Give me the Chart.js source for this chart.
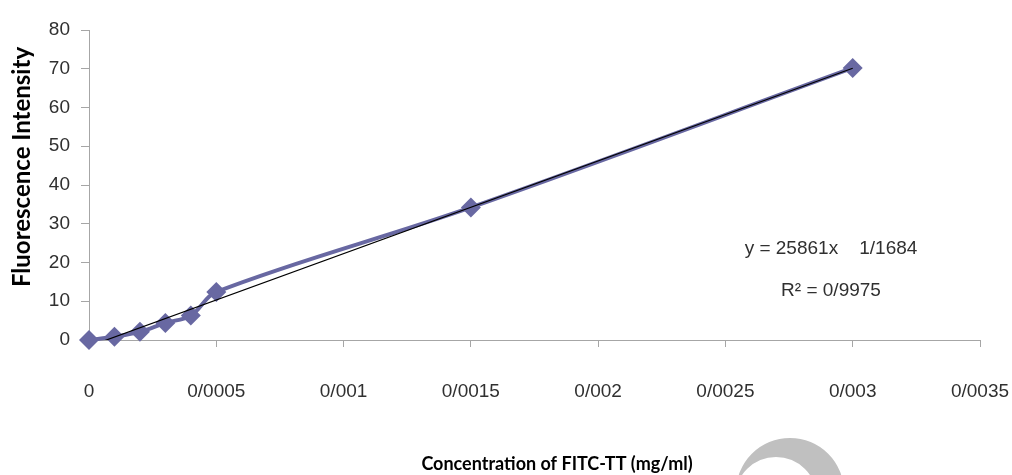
<!DOCTYPE html>
<html>
<head>
<meta charset="utf-8">
<script src="https://cdn.jsdelivr.net/npm/chart.js@4.4.0/dist/chart.umd.min.js"></script>
<style>
  html, body { margin: 0; padding: 0; background: #ffffff; }
  #wrap { width: 1012px; height: 475px; position: relative; }
</style>
</head>
<body>
<div id="wrap"><canvas id="c"></canvas></div>
<script>
// Calibration points: FITC-TT concentration (mg/ml) vs fluorescence intensity
const concentrations = [0, 0.0001, 0.0002, 0.0003, 0.0004, 0.0005, 0.0015, 0.003];
const intensities    = [0, 0.85, 2.1, 4.4, 6.3, 12.4, 34.2, 70.2];

// Axis ticks (decimal separator written as "/")
const xTickValues = [0, 0.0005, 0.001, 0.0015, 0.002, 0.0025, 0.003, 0.0035];
const xTickLabels = ['0', '0/0005', '0/001', '0/0015', '0/002', '0/0025', '0/003', '0/0035'];
const yTickValues = [0, 10, 20, 30, 40, 50, 60, 70, 80];
const yTickLabels = ['0', '10', '20', '30', '40', '50', '60', '70', '80'];

const equationText = 'y = 25861x    1/1684';
const rSquaredText = 'R\u00B2 = 0/9975';
const xTitleText = 'Concentration of FITC-TT (mg/ml)';
const yTitleText = 'Fluorescence Intensity';

// Least-squares linear trendline through the measured points
function linearFit(xs, ys) {
  const n = xs.length;
  const mx = xs.reduce((a, b) => a + b, 0) / n;
  const my = ys.reduce((a, b) => a + b, 0) / n;
  let sxy = 0, sxx = 0;
  for (let i = 0; i < n; i++) {
    sxy += (xs[i] - mx) * (ys[i] - my);
    sxx += (xs[i] - mx) * (xs[i] - mx);
  }
  const slope = sxy / sxx;
  return { slope, intercept: my - slope * mx };
}
const fit = linearFit(concentrations, intensities);
const xMin = Math.min(...concentrations);
const xMax = Math.max(...concentrations);
const trendPoints = [
  { x: xMin, y: fit.slope * xMin + fit.intercept },
  { x: xMax, y: fit.slope * xMax + fit.intercept }
];
const measuredPoints = concentrations.map((x, i) => ({ x, y: intensities[i] }));

const SERIES_COLOR = '#6868a2';
const AXIS_COLOR = '#a6a6a6';
const TEXT_COLOR = '#303030';
const TICK_FONT = { family: 'Liberation Sans', size: 19 };

// Titles, regression annotation and the grey crescent mark
const overlayPlugin = {
  id: 'overlay',
  afterDraw(chart) {
    const ctx = chart.ctx;
    ctx.save();

    // crescent
    ctx.beginPath();
    ctx.ellipse(790, 492, 54, 54, 0, 0, Math.PI * 2);
    ctx.ellipse(776, 498, 41, 41, 0, 0, Math.PI * 2);
    ctx.fillStyle = '#c0c0c0';
    ctx.fill('evenodd');

    ctx.fillStyle = TEXT_COLOR;
    ctx.textAlign = 'center';
    ctx.textBaseline = 'middle';

    ctx.font = '19px "Liberation Sans"';
    ctx.fillText(equationText, 831, 249);
    ctx.fillText(rSquaredText, 831, 291);

    ctx.fillStyle = '#000000';
    ctx.font = 'bold 18px Lato';
    ctx.fillText(xTitleText, 557, 464);

    ctx.translate(22, 167);
    ctx.rotate(-Math.PI / 2);
    ctx.font = 'bold 24px Lato';
    ctx.fillText(yTitleText, 0, 0);

    ctx.restore();
  }
};

new Chart(document.getElementById('c'), {
  type: 'line',
  data: {
    datasets: [
      {
        label: 'Linear fit',
        data: trendPoints,
        borderColor: '#000000',
        borderWidth: 1.2,
        pointRadius: 0,
        tension: 0,
        fill: false
      },
      {
        label: 'Fluorescence',
        data: measuredPoints,
        borderColor: SERIES_COLOR,
        borderWidth: 4,
        tension: 0.35,
        pointStyle: 'rectRot',
        pointRadius: 10,
        pointBackgroundColor: SERIES_COLOR,
        pointBorderWidth: 0,
        clip: false,
        fill: false
      }
    ]
  },
  options: {
    responsive: true,
    maintainAspectRatio: false,
    animation: false,
    layout: { padding: { top: 30, right: 32, left: 0, bottom: 0 } },
    plugins: {
      legend: { display: false },
      tooltip: { enabled: false }
    },
    scales: {
      x: {
        type: 'linear',
        min: xTickValues[0],
        max: xTickValues[xTickValues.length - 1],
        afterBuildTicks(scale) { scale.ticks = xTickValues.map(v => ({ value: v })); },
        afterFit(scale) {
          scale.height = 135;
          scale.paddingLeft = 0;
          scale.paddingRight = 0;
        },
        grid: { drawOnChartArea: false, color: AXIS_COLOR, tickLength: 7 },
        border: { color: AXIS_COLOR, width: 1 },
        ticks: {
          color: TEXT_COLOR,
          font: TICK_FONT,
          padding: 33,
          maxRotation: 0,
          autoSkip: false,
          callback: (v, i) => xTickLabels[i]
        }
      },
      y: {
        type: 'linear',
        min: yTickValues[0],
        max: yTickValues[yTickValues.length - 1],
        afterBuildTicks(scale) { scale.ticks = yTickValues.map(v => ({ value: v })); },
        afterFit(scale) {
          scale.width = 89;
          scale.paddingTop = 0;
          scale.paddingBottom = 0;
        },
        grid: { drawOnChartArea: false, color: AXIS_COLOR, tickLength: 8 },
        border: { color: AXIS_COLOR, width: 1 },
        ticks: {
          color: TEXT_COLOR,
          font: TICK_FONT,
          padding: 11,
          autoSkip: false,
          callback: (v, i) => yTickLabels[i]
        }
      }
    }
  },
  plugins: [overlayPlugin]
});
</script>
</body>
</html>
